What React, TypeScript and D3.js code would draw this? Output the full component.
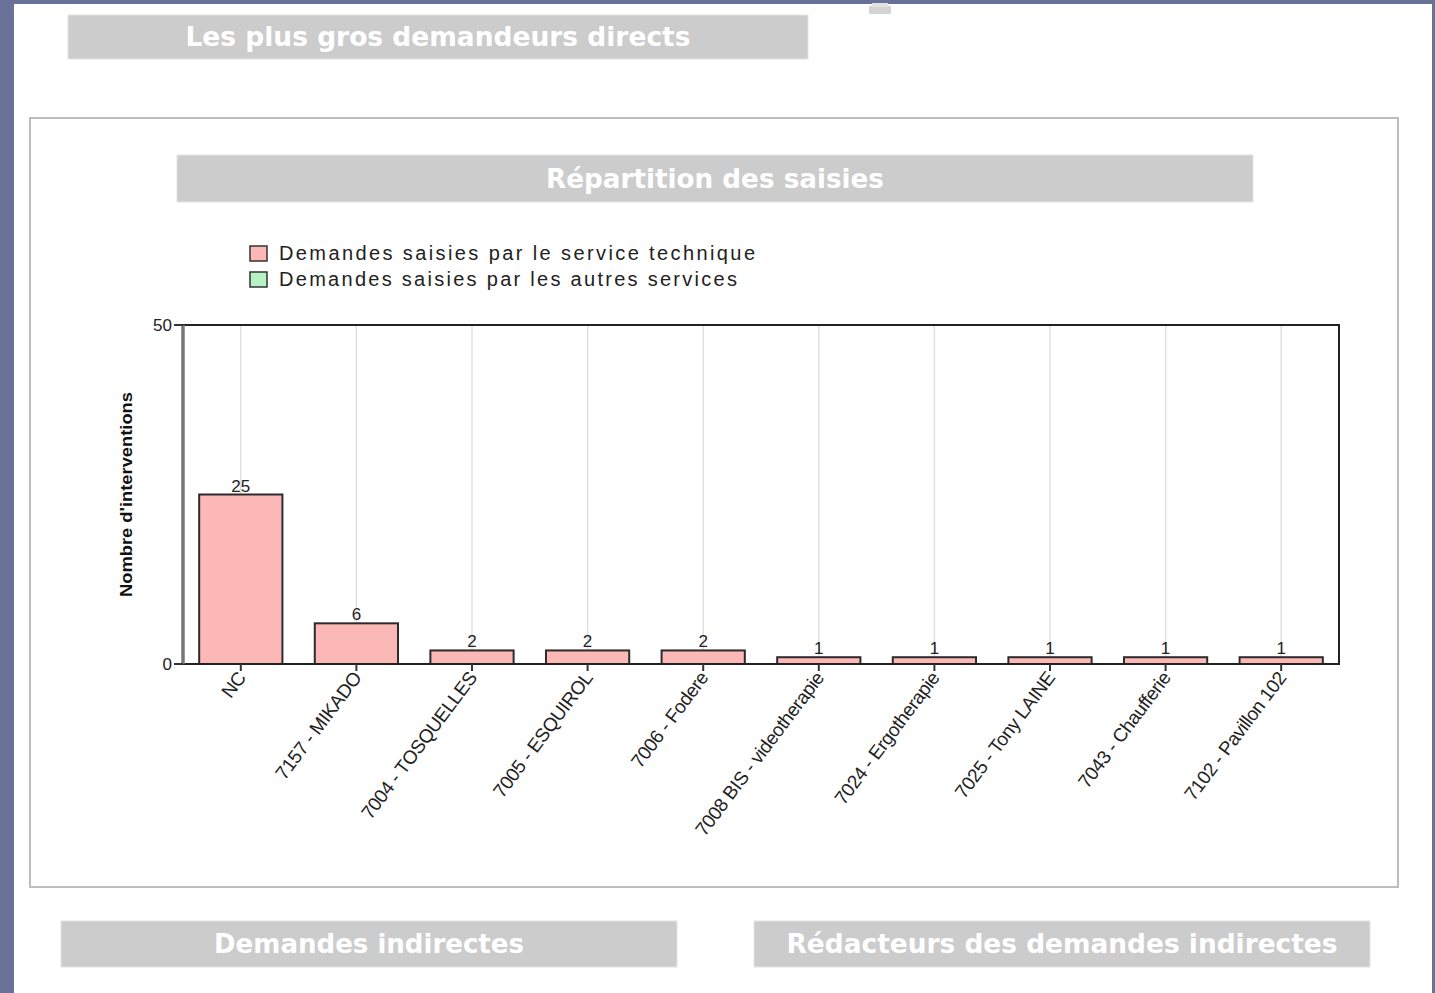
import React from "react";
import * as d3 from "d3";

const categories = [
  "NC",
  "7157 - MIKADO",
  "7004 - TOSQUELLES",
  "7005 - ESQUIROL",
  "7006 - Fodere",
  "7008 BIS - videotherapie",
  "7024 - Ergotherapie",
  "7025 - Tony LAINE",
  "7043 - Chaufferie",
  "7102 - Pavillon 102",
];
const serviceTechnique = [25, 6, 2, 2, 2, 1, 1, 1, 1, 1];
const autresServices = [0, 0, 0, 0, 0, 0, 0, 0, 0, 0];
const yTicks = [0, 50];
const legendLabels = [
  "Demandes saisies par le service technique",
  "Demandes saisies par les autres services",
];
const legendColors = ["#fbb8b6", "#b6f2c2"];
const headerTitles = [
  "Les plus gros demandeurs directs",
  "Répartition des saisies",
  "Demandes indirectes",
  "Rédacteurs des demandes indirectes",
];

const W = 1435;
const H = 993;
const plot = { left: 183, right: 1339, top: 325, bottom: 664 };

export default function App() {
  const x = d3
    .scaleBand<string>()
    .domain(categories)
    .range([plot.left, plot.right])
    .paddingInner(0.28)
    .paddingOuter(0.14);
  const y = d3.scaleLinear().domain([0, 50]).range([plot.bottom, plot.top]);
  const labelFont = "'Liberation Sans', Arial, sans-serif";
  const titleFont = "'DejaVu Sans', Verdana, sans-serif";

  const header = (
    text: string,
    bx: number,
    by: number,
    bw: number,
    bh: number,
    tw: number
  ) => (
    <g key={text}>
      <rect x={bx} y={by} width={bw} height={bh} fill="#cccccc" stroke="#e4e4e4" strokeWidth={1} />
      <text
        x={bx + bw / 2}
        y={by + bh / 2 + 9}
        textAnchor="middle"
        fontFamily={titleFont}
        fontWeight="bold"
        fontSize={26}
        fill="#ffffff"
        textLength={tw}
        lengthAdjust="spacingAndGlyphs"
      >
        {text}
      </text>
    </g>
  );

  return (
    <svg
      width={W}
      height={H}
      style={{ position: "absolute", left: 0, top: 0 }}
      xmlns="http://www.w3.org/2000/svg"
    >
      <rect x={0} y={0} width={W} height={H} fill="#6a7199" />
      <rect x={14} y={4} width={1418} height={H - 4} fill="#ffffff" />
      {/* tiny icon */}
      <rect x={869} y={6} width={22} height={8} fill="#d4d4d4" />
      <rect x={872} y={3} width={16} height={4} fill="#e2e2e2" />

      {header(headerTitles[0], 68, 15, 740, 44, 505)}

      {/* panel */}
      <rect x={30} y={118} width={1368} height={769} fill="#ffffff" stroke="#bdbdbd" strokeWidth={2} />

      {header(headerTitles[1], 177, 155, 1076, 47, 338)}

      {/* legend */}
      {legendLabels.map((l, i) => (
        <g key={l}>
          <rect
            x={250}
            y={246 + i * 26}
            width={17}
            height={15}
            fill={legendColors[i]}
            stroke="#333"
            strokeWidth={1.5}
          />
          <text
            x={279}
            y={260 + i * 26}
            fontFamily={labelFont}
            fontSize={20}
            fill="#222"
            textLength={i === 0 ? 476 : 458}
            lengthAdjust="spacing"
          >
            {l}
          </text>
        </g>
      ))}

      {/* gridlines */}
      {categories.map((c) => (
        <line
          key={"g" + c}
          x1={x(c)! + x.bandwidth() / 2}
          x2={x(c)! + x.bandwidth() / 2}
          y1={plot.top}
          y2={plot.bottom}
          stroke="#e0e0e0"
          strokeWidth={1.5}
        />
      ))}

      {/* bars */}
      {categories.map((c, i) => (
        <g key={"b" + c}>
          <rect
            x={x(c)}
            y={y(serviceTechnique[i] + autresServices[i])}
            width={x.bandwidth()}
            height={plot.bottom - y(serviceTechnique[i] + autresServices[i])}
            fill={legendColors[0]}
            stroke="#2b2b2b"
            strokeWidth={2}
          />
          <text
            x={x(c)! + x.bandwidth() / 2}
            y={y(serviceTechnique[i]) - 3}
            textAnchor="middle"
            fontFamily={labelFont}
            fontSize={17}
            fill="#222"
          >
            {serviceTechnique[i]}
          </text>
        </g>
      ))}

      {/* frame */}
      <path
        d={`M${plot.left},${plot.top} H${plot.right} V${plot.bottom} H${plot.left}`}
        fill="none"
        stroke="#222"
        strokeWidth={2}
      />
      <line x1={plot.left} x2={plot.left} y1={plot.top} y2={plot.bottom} stroke="#777" strokeWidth={3.5} />

      {/* y ticks */}
      {yTicks.map((t) => (
        <g key={"y" + t}>
          <line x1={plot.left - 9} x2={plot.left} y1={y(t)} y2={y(t)} stroke="#333" strokeWidth={2} />
          <text
            x={plot.left - 11}
            y={y(t) + 6}
            textAnchor="end"
            fontFamily={labelFont}
            fontSize={17}
            fill="#222"
          >
            {t}
          </text>
        </g>
      ))}

      {/* y label */}
      <text
        transform={`translate(132,${(392 + 597) / 2}) rotate(-90)`}
        textAnchor="middle"
        fontFamily={labelFont}
        fontWeight="bold"
        fontSize={17}
        fill="#111"
        textLength={205}
        lengthAdjust="spacingAndGlyphs"
      >
        Nombre d'interventions
      </text>

      {/* x ticks and labels */}
      {categories.map((c) => {
        const cx = x(c)! + x.bandwidth() / 2;
        return (
          <g key={"x" + c}>
            <line x1={cx} x2={cx} y1={plot.bottom} y2={plot.bottom + 7} stroke="#333" strokeWidth={2} />
            <text
              transform={`translate(${cx + 6},${plot.bottom + 14}) rotate(-53)`}
              textAnchor="end"
              fontFamily={labelFont}
              fontSize={19}
              fill="#222"
              letterSpacing={-0.4}
            >
              {c}
            </text>
          </g>
        );
      })}

      {header(headerTitles[2], 61, 921, 616, 46, 310)}
      {header(headerTitles[3], 754, 921, 616, 46, 551)}
    </svg>
  );
}
